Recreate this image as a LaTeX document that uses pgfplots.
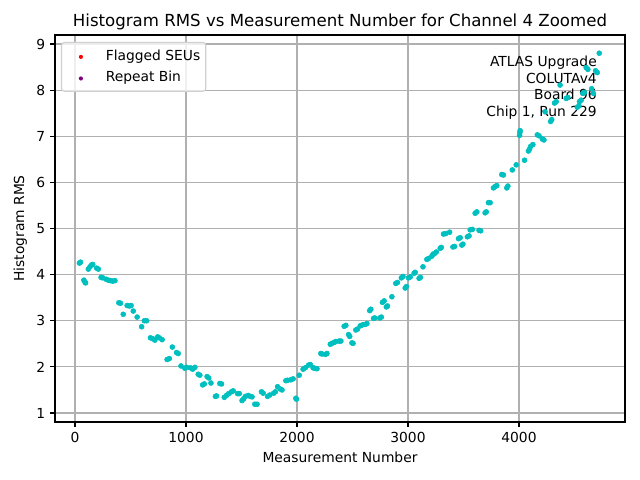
\documentclass[border=0pt]{standalone}
\usepackage{fontspec}
\setmainfont{DejaVu Sans}
\usepackage{pgfplots}
\pgfplotsset{compat=1.18}
\definecolor{mplc}{rgb}{0,0.75,0.75}
\definecolor{gridc}{HTML}{B0B0B0}
\definecolor{legc}{HTML}{D0D0D0}
\definecolor{mplpurple}{HTML}{800080}
\begin{document}
\begin{tikzpicture}
\useasboundingbox (0,0) rectangle (6.4in,4.8in);
\begin{axis}[
  at={(0.55in,0.58in)}, anchor=south west,
  scale only axis, width=5.7in, height=3.87in,
  xmin=-180, xmax=4955, ymin=0.805, ymax=9.195,
  xtick={0,1000,2000,3000,4000}, ytick={1,2,3,4,5,6,7,8,9},
  /pgf/number format/assume math mode=true,
  scaled x ticks=false,
  xticklabel style={/pgf/number format/1000 sep={}},
  tick label style={font=\fontsize{10}{12}\selectfont},
  tick align=outside, tick pos=left,
  major tick length=3.5pt,
  every tick/.style={black, line width=0.8pt},
  axis line style={line width=0.8pt},
  grid=major, major grid style={gridc, line width=0.8pt},
  title={Histogram RMS vs Measurement Number for Channel 4 Zoomed},
  title style={font=\fontsize{12}{14}\selectfont, yshift=-6pt},
  xlabel={Measurement Number}, ylabel={Histogram RMS},
  label style={font=\fontsize{10}{12}\selectfont},
  legend style={at={(0.0105,0.982)}, anchor=north west, draw=legc, line width=0.8pt, rounded corners=2pt,
    fill=white, fill opacity=0.8, draw opacity=1, text opacity=1, font=\fontsize{10}{12}\selectfont,
    inner xsep=4pt, inner ysep=4.5pt, row sep=5pt, column sep=0pt,
    nodes={inner sep=0pt, text height=8.3pt, text depth=2.3pt}},
  legend cell align=left,
]
\addlegendimage{legend image code/.code={\path[draw=none,fill=none] (0,-2pt) rectangle (28pt,2pt); \fill[red, draw=none, fill opacity=1] (10pt,-0.6pt) circle (1.5pt);}}
\addlegendentry{Flagged SEUs}
\addlegendimage{legend image code/.code={\path[draw=none,fill=none] (0,-2pt) rectangle (28pt,2pt); \fill[mplpurple, draw=none, fill opacity=1] (10pt,-0.6pt) circle (1.5pt);}}
\addlegendentry{Repeat Bin}
\addplot[only marks, mark=*, mark size=1.8pt, color=mplc, forget plot] coordinates {
(40,4.25)(50,4.27)
(80,3.88)(90,3.84)(95,3.82)
(120,4.12)(135,4.17)(150,4.21)(160,4.22)
(195,4.14)(210,4.12)
(235,3.94)(250,3.93)
(280,3.9)(300,3.88)(320,3.87)(340,3.86)(360,3.87)
(395,3.39)(410,3.38)
(435,3.14)
(470,3.33)(490,3.32)(505,3.33)
(525,3.21)
(560,3.08)
(600,2.87)
(625,3.0)(645,3.0)
(680,2.63)(700,2.61)(720,2.58)
(745,2.65)(760,2.63)(785,2.59)
(830,2.16)(850,2.18)
(877,2.43)
(915,2.31)(930,2.29)
(955,2.02)
(990,1.97)(1005,1.99)
(1040,1.98)(1060,1.95)(1080,1.99)
(1110,1.84)(1125,1.82)
(1150,1.61)(1165,1.63)
(1190,1.79)(1205,1.76)
(1225,1.65)
(1265,1.36)(1275,1.37)
(1305,1.64)(1320,1.63)
(1345,1.34)(1365,1.38)(1385,1.42)(1410,1.46)(1425,1.48)
(1465,1.42)(1480,1.42)
(1505,1.27)(1520,1.31)(1535,1.36)
(1560,1.38)(1580,1.36)(1595,1.35)
(1620,1.19)(1640,1.19)
(1680,1.46)(1695,1.43)
(1735,1.36)(1755,1.39)
(1790,1.43)(1805,1.46)
(1825,1.57)
(1850,1.52)(1865,1.50)
(1900,1.70)(1915,1.71)
(1945,1.72)(1965,1.74)
(1990,1.32)(1995,1.30)
(2020,1.82)
(2055,1.95)(2075,1.98)
(2105,2.04)(2120,2.05)
(2145,1.98)(2160,1.97)(2180,1.96)
(2215,2.29)(2225,2.28)
(2255,2.27)(2270,2.29)
(2300,2.49)(2315,2.51)
(2335,2.53)(2350,2.55)
(2380,2.56)(2395,2.56)
(2425,2.88)(2440,2.90)
(2465,2.70)(2475,2.66)
(2495,2.52)(2505,2.51)
(2530,2.80)(2545,2.82)
(2570,2.89)(2590,2.91)
(2615,2.92)(2630,2.94)
(2655,3.22)(2665,3.25)
(2690,3.05)(2700,3.06)
(2745,3.06)(2760,3.08)
(2770,3.40)(2785,3.43)
(2805,3.30)(2815,3.32)
(2855,3.52)
(2890,3.81)(2905,3.83)
(2940,3.93)(2955,3.96)
(2975,3.71)(2985,3.74)
(3005,3.93)(3020,3.95)
(3055,4.03)(3065,4.05)
(3100,3.92)(3112,3.94)
(3135,4.17)
(3170,4.33)(3185,4.35)
(3215,4.40)(3225,4.44)
(3240,4.46)(3255,4.49)
(3290,4.57)(3300,4.59)
(3320,4.88)(3340,4.89)(3375,4.92)
(3405,4.60)(3420,4.61)
(3455,4.78)(3470,4.80)
(3485,4.64)(3495,4.66)
(3535,4.82)(3550,4.84)
(3560,4.97)(3580,4.98)
(3605,5.33)(3620,5.36)
(3640,4.96)(3655,4.95)
(3695,5.34)(3705,5.36)
(3725,5.56)(3740,5.56)
(3770,5.88)(3785,5.91)(3800,5.93)
(3845,6.17)(3860,6.16)
(3890,5.88)(3900,5.92)
(3940,6.27)
(3975,6.38)
(4005,7.02)(4008,7.08)(4010,7.12)
(4050,6.48)
(4085,6.68)(4095,6.72)(4105,6.78)
(4125,6.82)
(4165,7.03)(4180,7.01)
(4210,6.94)(4225,6.92)
(4235,7.53)
(4285,7.32)(4295,7.36)
(4320,7.72)(4335,7.75)
(4370,8.11)
(4425,7.82)(4440,7.84)
(4525,7.63)(4540,7.66)
(4545,7.75)(4560,7.78)
(4575,7.93)(4590,7.95)
(4605,8.49)(4620,8.45)
(4655,8.03)(4670,7.93)
(4690,8.42)(4705,8.38)
(4723,8.8)
};
\node[anchor=north east, align=right, inner sep=0pt, font=\fontsize{10}{11.9}\selectfont] at (axis cs:4703,8.74) {ATLAS Upgrade\\COLUTAv4\\Board 96\\Chip 1, Run 229};
\end{axis}
\end{tikzpicture}
\end{document}
